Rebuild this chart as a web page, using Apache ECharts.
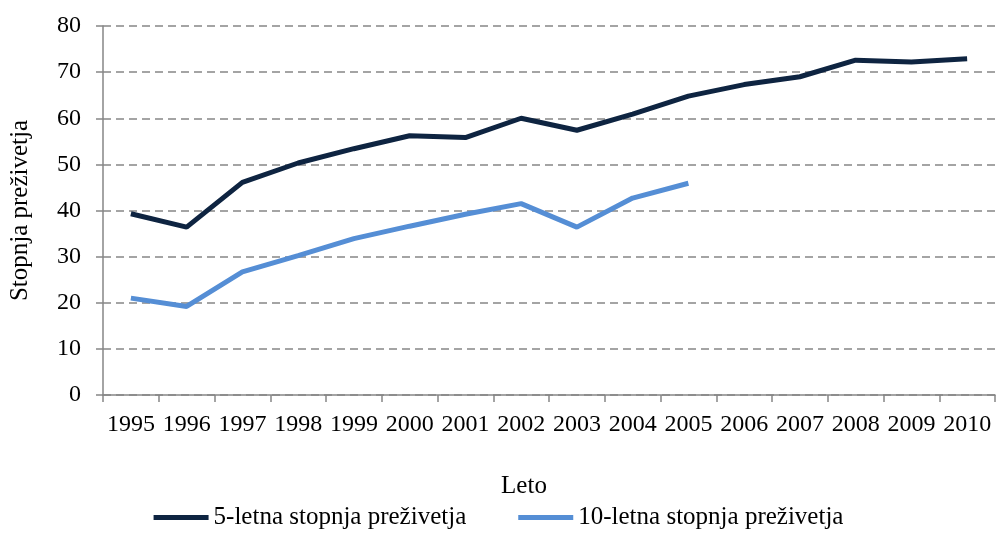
<!DOCTYPE html>
<html>
<head>
<meta charset="utf-8">
<script src="https://cdn.jsdelivr.net/npm/echarts@6/dist/echarts.min.js"></script>
<style>
  html, body { margin: 0; padding: 0; background: #fff; }
  #chart { width: 997px; height: 546px; }
</style>
</head>
<body>
<div id="chart"></div>
<script>
var years = ["1995", "1996", "1997", "1998", "1999", "2000", "2001", "2002",
             "2003", "2004", "2005", "2006", "2007", "2008", "2009", "2010"];
var fiveYear = [39.3, 36.4, 46.1, 50.3, 53.4, 56.2, 55.8, 60.0,
                57.4, 60.9, 64.8, 67.3, 69.0, 72.6, 72.2, 72.9];
var tenYear = [21.0, 19.2, 26.7, 30.2, 33.9, 36.6, 39.2, 41.5,
               36.4, 42.7, 45.9];
var seriesNames = ["5-letna stopnja preživetja", "10-letna stopnja preživetja"];

var font = "Liberation Serif";
var gray = "#868686";

var myChart = echarts.init(document.getElementById("chart"));

myChart.setOption({
  animation: false,
  color: ["#0e2441", "#558ed5"],
  textStyle: { fontFamily: font, color: "#000" },
  title: {
    text: "Leto",
    left: 519,
    top: 469,
    textAlign: "center",
    textStyle: { fontFamily: font, fontSize: 25, fontWeight: "normal", color: "#000" }
  },
  legend: {
    bottom: 11,
    left: "center",
    icon: "rect",
    itemWidth: 55,
    itemHeight: 5,
    itemGap: 52,
    textStyle: { fontFamily: font, fontSize: 25, color: "#000" },
    data: seriesNames
  },
  grid: { left: 102, right: 2, top: 26, bottom: 151 },
  xAxis: {
    type: "category",
    data: years,
    boundaryGap: true,
    axisLine: { lineStyle: { color: gray, width: 1.5 } },
    axisTick: { show: true, length: 7, lineStyle: { color: gray, width: 1.5 } },
    axisLabel: { fontFamily: font, fontSize: 24, color: "#000", margin: 18, interval: 0 }
  },
  yAxis: {
    type: "value",
    min: 0,
    max: 80,
    interval: 10,
    name: "Stopnja preživetja",
    nameLocation: "middle",
    nameGap: 70,
    nameTextStyle: { fontFamily: font, fontSize: 25, color: "#000" },
    axisLine: { show: true, lineStyle: { color: gray, width: 1.5 } },
    axisTick: { show: true, length: 7, lineStyle: { color: gray, width: 1.5 } },
    axisLabel: { fontFamily: font, fontSize: 24, color: "#000", margin: 22 },
    splitLine: { lineStyle: { color: gray, width: 1.5, type: [8, 5] } }
  },
  series: [
    {
      name: seriesNames[0],
      type: "line",
      data: fiveYear,
      symbol: "none",
      lineStyle: { width: 5 }
    },
    {
      name: seriesNames[1],
      type: "line",
      data: tenYear,
      symbol: "none",
      lineStyle: { width: 5 }
    }
  ]
});

window.addEventListener("resize", function () {
  myChart.resize();
});
</script>
</body>
</html>
